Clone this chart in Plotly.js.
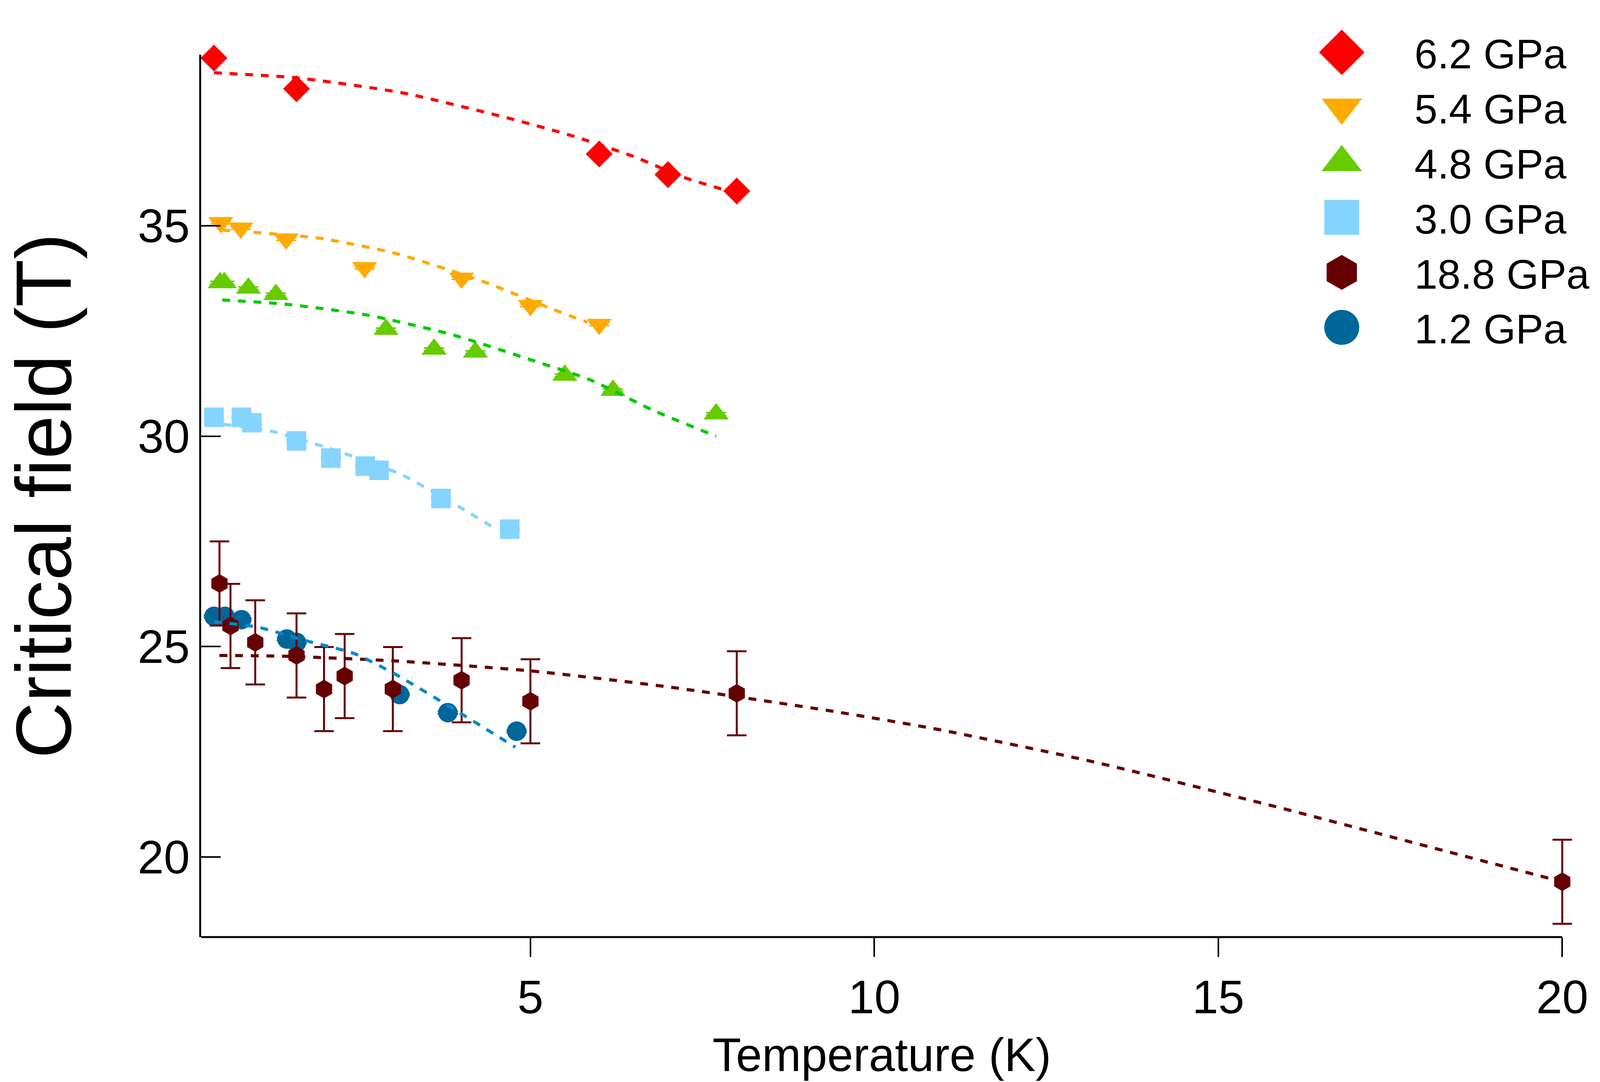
<!DOCTYPE html>
<html>
<head>
<meta charset="utf-8">
<script src="https://cdn.plot.ly/plotly-3.0.1.min.js"></script>
<style>html,body{margin:0;padding:0;background:#fff}</style>
</head>
<body>
<div id="chart" style="width:4320px;height:2770px"></div>
<script>
// measured points (T in K, Hc in T)
const t62 = [0.40, 1.60, 6.00, 7.00, 8.00];
const h62 = [38.99, 38.26, 36.71, 36.22, 35.83];
const t54 = [0.50, 0.79, 1.45, 2.59, 4.00, 5.00, 6.00];
const h54 = [35.08, 34.95, 34.69, 34.01, 33.76, 33.11, 32.66];
const t48 = [0.49, 0.55, 0.90, 1.30, 2.90, 3.60, 4.20, 5.50, 6.20, 7.70];
const h48 = [33.65, 33.65, 33.52, 33.37, 32.54, 32.07, 32.00, 31.45, 31.09, 30.53];
const t30 = [0.40, 0.80, 0.95, 1.60, 2.10, 2.60, 2.80, 3.70, 4.70];
const h30 = [30.45, 30.45, 30.32, 29.89, 29.48, 29.29, 29.19, 28.52, 27.79];
const t188 = [0.48, 0.64, 1.00, 1.60, 2.00, 2.30, 3.00, 4.00, 5.00, 8.00, 20.0];
const h188 = [26.50, 25.49, 25.10, 24.79, 23.99, 24.30, 23.99, 24.20, 23.70, 23.89, 19.41];
const e188 = [1.0, 1.0, 1.0, 1.0, 1.0, 1.0, 1.0, 1.0, 1.0, 1.0, 1.0];
const t12 = [0.40, 0.56, 0.80, 1.46, 1.60, 3.10, 3.80, 4.80];
const h12 = [25.72, 25.72, 25.64, 25.18, 25.10, 23.86, 23.43, 22.99];

// fit curves
const fitT62 = [0.40, 1.60, 3.15, 4.66, 5.59, 6.50, 7.22, 8.00];
const fitH62 = [38.64, 38.52, 38.16, 37.57, 37.15, 36.65, 36.16, 35.77];
const fitT54 = [0.52, 1.92, 3.03, 4.31, 5.31, 5.83];
const fitH54 = [34.90, 34.71, 34.35, 33.68, 33.03, 32.71];
const fitT48 = [0.52, 1.44, 2.63, 3.83, 5.02, 5.87, 6.78, 7.70];
const fitH48 = [33.24, 33.14, 32.88, 32.43, 31.81, 31.34, 30.62, 30.00];
const fitT30 = [0.54, 1.16, 2.08, 3.11, 4.03, 4.49];
const fitH30 = [30.28, 30.15, 29.71, 29.10, 28.26, 27.80];
const fitT188 = [0.48, 1.44, 3.03, 5.02, 7.06, 9.33, 10.93, 13.16, 15.75, 17.74, 20.0];
const fitH188 = [24.79, 24.77, 24.66, 24.42, 24.03, 23.48, 23.03, 22.27, 21.23, 20.38, 19.41];
const fitT12 = [0.40, 1.04, 1.76, 2.43, 3.03, 3.83, 4.78];
const fitH12 = [25.59, 25.46, 25.13, 24.84, 24.35, 23.57, 22.61];

const smallErr = 0.03; // tiny error bars, only the caps show
const xRange = [0.214, 20.35];
const yRange = [18.095, 39.07];
const xLineEnd = 20; // bottom axis line stops at the last tick

function pts(name, x, y, symbol, size, color, rank, err) {
  return {
    x: x, y: y, name: name, type: 'scatter', mode: 'markers',
    cliponaxis: false, legendrank: rank,
    marker: { symbol: symbol, size: size, color: color, line: { width: 0 } },
    error_y: err
      ? { type: 'data', array: err, visible: true, color: color, thickness: 5, width: 25 }
      : { type: 'constant', value: smallErr, visible: true, color: color, thickness: 4, width: 26 },
  };
}

function fit(x, y, color) {
  return {
    x: x, y: y, type: 'scatter', mode: 'lines', showlegend: false,
    cliponaxis: false, hoverinfo: 'skip',
    line: { color: color, width: 8, dash: '20px,20px', shape: 'spline', smoothing: 0.6 },
  };
}

let data = [
  pts('6.2 GPa', t62, h62, 'diamond', 53, '#ff0000', 1),
  pts('5.4 GPa', t54, h54, 'triangle-down', 56, '#ffaa00', 2),
  pts('4.8 GPa', t48, h48, 'triangle-up', 56, '#66cc00', 3),
  pts('3.0 GPa', t30, h30, 'square', 50, '#85d4ff', 4),
  pts('1.2 GPa', t12, h12, 'circle', 50, '#006699', 6),
  pts('18.8 GPa', t188, h188, 'hexagon', 48, '#660000', 5, e188),
  fit(fitT62, fitH62, '#ff0000'),
  fit(fitT54, fitH54, '#ffaa00'),
  fit(fitT48, fitH48, '#00cc00'),
  fit(fitT30, fitH30, '#85d4ff'),
  fit(fitT188, fitH188, '#660000'),
  fit(fitT12, fitH12, '#0088cc'),
];

let layout = {
  width: 4320,
  height: 2770,
  margin: { l: 515, r: 259, t: 140, b: 371 },
  paper_bgcolor: 'white',
  plot_bgcolor: 'white',
  font: { family: 'Liberation Sans, Arial, sans-serif', size: 120, color: 'black' },
  showlegend: true,
  legend: {
    x: 0.771, y: 1.036, xanchor: 'left', yanchor: 'top',
    font: { size: 106 }, itemwidth: 362,
    bgcolor: 'rgba(0,0,0,0)', borderwidth: 0,
  },
  xaxis: {
    range: xRange,
    showgrid: false, zeroline: false, showline: false,
    ticks: 'outside', ticklen: 50, tickwidth: 4, tickcolor: 'black',
    tick0: 0, dtick: 5,
    tickfont: { size: 120 },
  },
  yaxis: {
    range: yRange,
    showgrid: false, zeroline: false,
    showline: true, linecolor: 'black', linewidth: 5,
    ticks: 'inside', ticklen: 50, tickwidth: 4, tickcolor: 'black',
    tick0: 0, dtick: 5,
    tickfont: { size: 120 },
    title: { text: 'Critical field (T)', font: { size: 200 }, standoff: 159 },
  },
  shapes: [
    {
      type: 'line', xref: 'x', yref: 'paper',
      x0: xRange[0], x1: xLineEnd, y0: 0, y1: 0,
      line: { color: 'black', width: 5 }, layer: 'above',
    },
  ],
  annotations: [
    {
      // x title centred under the drawn axis line, not the padded range
      text: 'Temperature (K)', showarrow: false,
      xref: 'x', yref: 'paper', x: (xRange[0] + xLineEnd) / 2, y: -0.1333,
      xanchor: 'center', yanchor: 'middle',
      font: { size: 120, color: 'black' },
    },
  ],
};

Plotly.newPlot('chart', data, layout, { staticPlot: true }).then(function () {
  // legend symbols are capped at 16px by plotly, blow them up
  document.querySelectorAll('.legend .legendpoints path.scatterpts').forEach(function (p) {
    let tr = p.getAttribute('transform') || '';
    p.setAttribute('transform', tr + ' scale(5.6)');
  });
});
</script>
</body>
</html>
